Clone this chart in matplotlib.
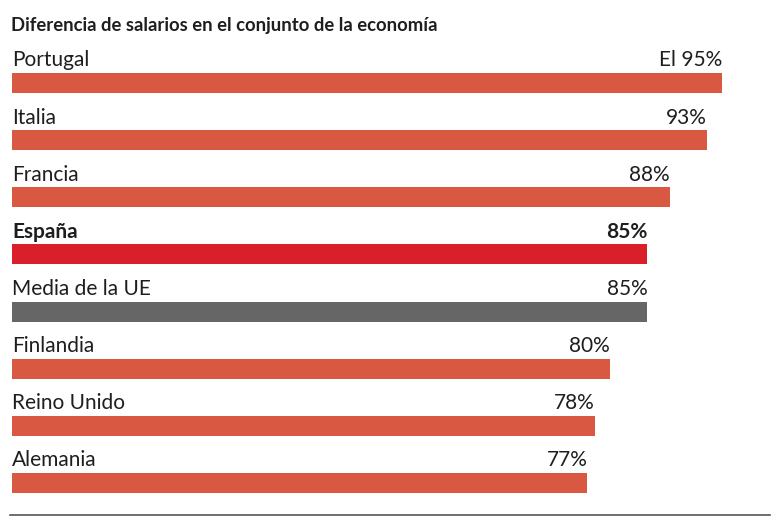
import matplotlib
matplotlib.use("Agg")
import matplotlib.pyplot as plt
from matplotlib.lines import Line2D

title = "Diferencia de salarios en el conjunto de la economía"
countries = ["Portugal", "Italia", "Francia", "España", "Media de la UE",
             "Finlandia", "Reino Unido", "Alemania"]
values = [95, 93, 88, 85, 85, 80, 78, 77]
value_labels = ["El 95%", "93%", "88%", "85%", "85%", "80%", "78%", "77%"]
highlight = ["normal", "normal", "normal", "spain", "eu", "normal", "normal", "normal"]

colors = {"normal": "#D95841", "spain": "#D9202A", "eu": "#666666"}

W, H = 776, 519
fig = plt.figure(figsize=(W / 100, H / 100), dpi=100)
ax = fig.add_axes([12 / W, 0, (W - 12) / W, 1])

px_per_unit = 710 / 95.0
xmax = (W - 12) / px_per_unit
step = 57.14
top0 = 83.0
ax.set_xlim(0, xmax)
ax.set_ylim((H - top0) / step, -top0 / step)
ax.axis("off")

bar_h = 20 / step
label_off = (10 + 6.5) / step
font_lbl = ["Lato", "DejaVu Sans"]
for i, (c, v, vl, h) in enumerate(zip(countries, values, value_labels, highlight)):
    ax.barh(i, v, height=bar_h, color=colors[h], left=0)
    weight = "bold" if h == "spain" else "normal"
    ax.text(0, i - label_off, c, ha="left", va="baseline", fontsize=15,
            color="#1e1e1e", family=font_lbl, fontweight=weight)
    ax.text(v, i - label_off, vl, ha="right", va="baseline", fontsize=15,
            color="#1e1e1e", family=font_lbl, fontweight=weight)

fig.text(11 / W, 1 - 31 / H, title, ha="left", va="baseline", fontsize=13.3,
         fontweight="bold", color="#1e1e1e",
         family=["Lato", "DejaVu Sans"])

fig.add_artist(Line2D([10 / W, 770 / W], [1 - 515 / H, 1 - 515 / H],
                      color="#555555", linewidth=1.2))

fig.savefig("out.png", dpi=100)
